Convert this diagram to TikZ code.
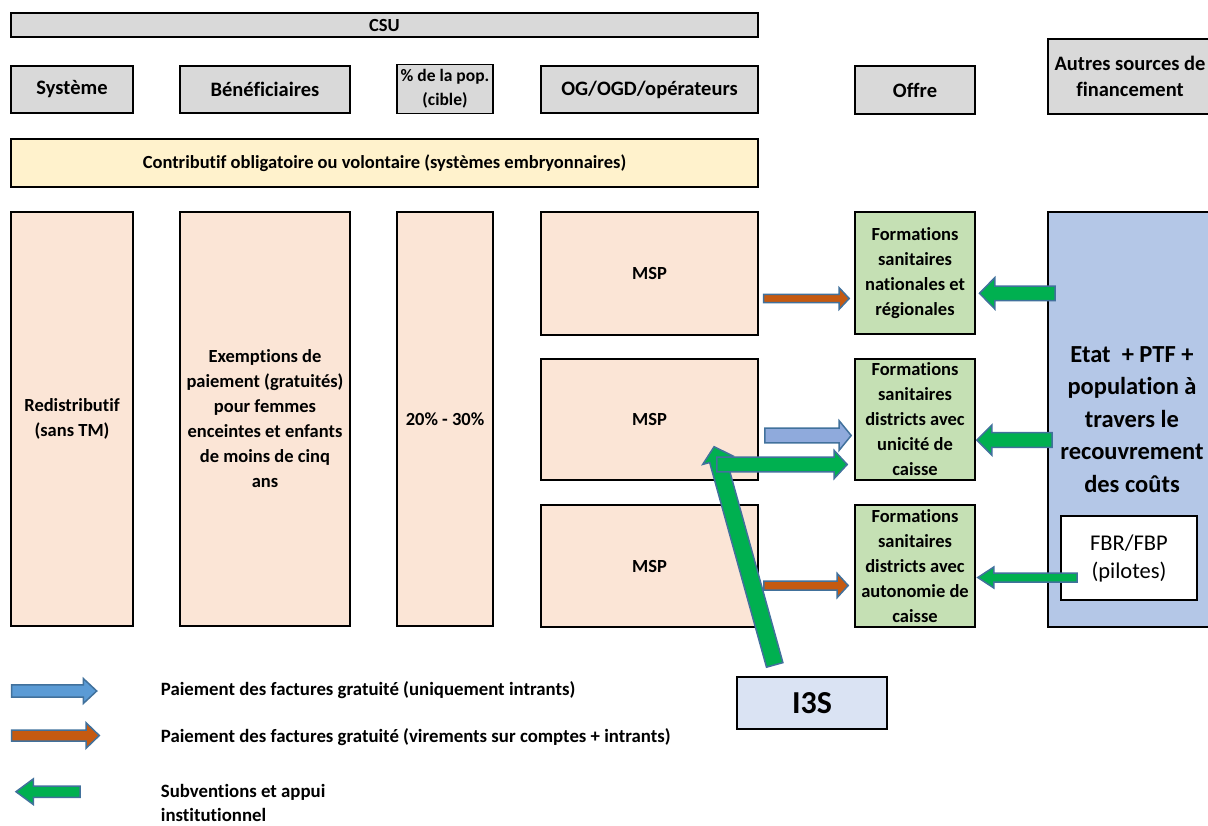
\documentclass[tikz,border=0pt]{standalone}
\usepackage{fontspec}
\setmainfont{Carlito}[Ligatures=NoCommon]
\usetikzlibrary{calc}

\definecolor{hdrgray}{HTML}{D9D9D9}
\definecolor{peach}{HTML}{FBE5D6}
\definecolor{paleyellow}{HTML}{FFF2CC}
\definecolor{palegreen}{HTML}{C5E0B4}
\definecolor{paleblue}{HTML}{B4C7E7}
\definecolor{iceblue}{HTML}{DAE3F3}
\definecolor{arrowedge}{HTML}{41719C}
\definecolor{arrowgreen}{HTML}{00B050}
\definecolor{arroworange}{HTML}{C55A11}
\definecolor{arrowblue}{HTML}{5B9BD5}
\definecolor{arrowlav}{HTML}{8FAADC}

% block arrow: style, from, to, shaft half width, head half width, head length (pt)
\newcommand\blockarrow[6]{%
  \coordinate (ba-neck) at ($(#3)!#6pt!(#2)$);
  \filldraw[#1] ($(#2)!#4pt!90:(#3)$) -- ($(ba-neck)!#4pt!90:(#3)$)
    -- ($(ba-neck)!#5pt!90:(#3)$) -- (#3) -- ($(ba-neck)!#5pt!-90:(#3)$)
    -- ($(ba-neck)!#4pt!-90:(#3)$) -- ($(#2)!#4pt!-90:(#3)$) -- cycle;
}

\tikzset{
  box/.style={draw=black, line width=1.6pt, inner sep=0pt, align=center,
    font=\bfseries\fontsize{18.5}{25}\selectfont},
  hdr/.style={box, fill=hdrgray, font=\bfseries\fontsize{20.5}{26.5}\selectfont},
  peachbox/.style={box, fill=peach},
  fsbox/.style={box, fill=palegreen},
  legtext/.style={anchor=west, inner sep=0pt, align=left,
    font=\bfseries\fontsize{18.8}{24}\selectfont},
  blk/.style={draw=arrowedge, line width=1.5pt, line join=miter},
  greenarr/.style={blk, fill=arrowgreen},
  orangearr/.style={blk, fill=arroworange},
  lavarr/.style={blk, fill=arrowlav},
  bluearr/.style={blk, fill=arrowblue},
}

\begin{document}
\begin{tikzpicture}[x=1pt, y=-1pt]
\useasboundingbox (0,0) rectangle (1208,825);

% title bar and column headers
\node[hdr, minimum width=747pt, minimum height=24pt,
      font=\bfseries\fontsize{18.5}{22}\selectfont] (csu) at (384.5,25) {CSU};
\node[hdr, minimum width=122pt, minimum height=47pt] (sys) at (72,89.5) {Système};
\node[hdr, minimum width=170pt, minimum height=47pt] (ben) at (265,89.5) {Bénéficiaires};
\node[hdr, minimum width=96pt, minimum height=49pt,
      font=\bfseries\fontsize{17.5}{24}\selectfont] (pop) at (445,89) {\% de la pop.\\(cible)};
\node[hdr, minimum width=217pt, minimum height=47pt] (og) at (649.5,89.5) {OG/OGD/opérateurs};
\node[hdr, minimum width=120pt, minimum height=48pt] (offre) at (915,90) {Offre};
\node[hdr, minimum width=164pt, minimum height=75pt] (autres) at (1130,76.5)
      {Autres sources de\\financement};

% contributory band
\node[box, fill=paleyellow, minimum width=747pt, minimum height=48pt] (contrib) at (384.5,163)
      {Contributif obligatoire ou volontaire (systèmes embryonnaires)};

% redistributive columns
\node[peachbox, minimum width=122pt, minimum height=414pt] (redis) at (72,419)
      {Redistributif\\(sans TM)};
\node[peachbox, minimum width=170pt, minimum height=414pt] (exem) at (265,419)
      {Exemptions de\\paiement (gratuités)\\pour femmes\\enceintes et enfants\\de moins de cinq\\ans};
\node[peachbox, minimum width=96pt, minimum height=414pt] (pct) at (445,419) {20\% - 30\%};

% operators
\node[peachbox, minimum width=217pt, minimum height=123pt] (msp1) at (649.5,273.5) {MSP};
\node[peachbox, minimum width=217pt, minimum height=121pt] (msp2) at (649.5,419.5) {MSP};
\node[peachbox, minimum width=217pt, minimum height=122pt] (msp3) at (649.5,566) {MSP};

% health facilities
\node[fsbox, minimum width=120pt, minimum height=122pt] (fs1) at (915,273)
      {Formations\\sanitaires\\nationales et\\régionales};
\node[fsbox, minimum width=120pt, minimum height=121pt] (fs2) at (915,419.5)
      {Formations\\sanitaires\\districts avec\\unicité de\\caisse};
\node[fsbox, minimum width=120pt, minimum height=122pt] (fs3) at (915,566)
      {Formations\\sanitaires\\districts avec\\autonomie de\\caisse};

% other funding sources
\node[box, fill=paleblue, minimum width=168pt, minimum height=415pt,
      font=\bfseries\fontsize{24.5}{32.5}\selectfont] (etat) at (1132,419.5)
      {Etat\ \ + PTF +\\population à\\travers le\\recouvrement\\des coûts};
\node[box, fill=white, minimum width=136pt, minimum height=84pt,
      font=\fontsize{22.5}{28}\selectfont] (fbr) at (1129,558) {FBR/FBP\\(pilotes)};

\node[box, fill=iceblue, minimum width=150pt, minimum height=52pt,
      font=\bfseries\fontsize{32}{36}\selectfont] (i3s) at (812,703) {I3S};

% arrow end points
\coordinate (o1s) at ($(msp1.east)+(4.7,25)$);
\coordinate (o1e) at ($(fs1.west)+(-5,25.5)$);
\coordinate (b2s) at ($(msp2.east)+(6,16)$);
\coordinate (b2e) at ($(fs2.west)+(-3,16)$);
\coordinate (g2s) at ($(msp2.east)+(-42,45)$);
\coordinate (g2e) at ($(fs2.west)+(-7,45)$);
\coordinate (o3s) at ($(msp3.east)+(5,19.5)$);
\coordinate (o3e) at ($(fs3.west)+(-6,19.5)$);
\coordinate (l1s) at ($(etat.west)+(8,-126.2)$);
\coordinate (l1e) at ($(fs1.east)+(3.7,20.3)$);
\coordinate (l2s) at ($(etat.west)+(5,20.5)$);
\coordinate (l2e) at ($(fs2.east)+(1,20.5)$);
\coordinate (l3s) at ($(fbr.west)+(17,19.5)$);
\coordinate (l3e) at ($(fs3.east)+(2,11.5)$);
\coordinate (dgs) at ($(i3s.north)+(-37.3,-11.3)$);
\coordinate (dge) at ($(msp2.east)+(-44.7,27.2)$);

% flows
\blockarrow{orangearr}{o1s}{o1e}{4.2}{10.7}{10}
\blockarrow{lavarr}{b2s}{b2e}{7.3}{14.7}{12}
\blockarrow{orangearr}{o3s}{o3e}{4.5}{12}{11}
\blockarrow{greenarr}{dgs}{dge}{8.5}{15.7}{14}
\blockarrow{greenarr}{g2s}{g2e}{7.3}{14}{13}
\blockarrow{greenarr}{l1s}{l1e}{7.3}{15.7}{15.3}
\blockarrow{greenarr}{l2s}{l2e}{7.3}{15}{15}
\blockarrow{greenarr}{l3s}{l3e}{4.5}{10.5}{16}

% legend
\coordinate (lbs) at (11.7,691);   \coordinate (lbe) at (96.7,691);
\coordinate (los) at (11.7,735.5); \coordinate (loe) at (99.3,735.5);
\coordinate (lgs) at (80,791.7);   \coordinate (lge) at (16,791.7);
\blockarrow{bluearr}{lbs}{lbe}{6.2}{12.5}{13.4}
\blockarrow{orangearr}{los}{loe}{5.5}{12.8}{13.3}
\blockarrow{greenarr}{lgs}{lge}{5.7}{12.8}{17.3}
\node[legtext] (leg1) at (160.7,690) {Paiement des factures gratuité (uniquement intrants)};
\node[legtext] (leg2) at (160.7,737.5) {Paiement des factures gratuité (virements sur comptes + intrants)};
\node[legtext] (leg3) at (160.7,803.4) {Subventions et appui\\institutionnel};
\end{tikzpicture}
\end{document}
